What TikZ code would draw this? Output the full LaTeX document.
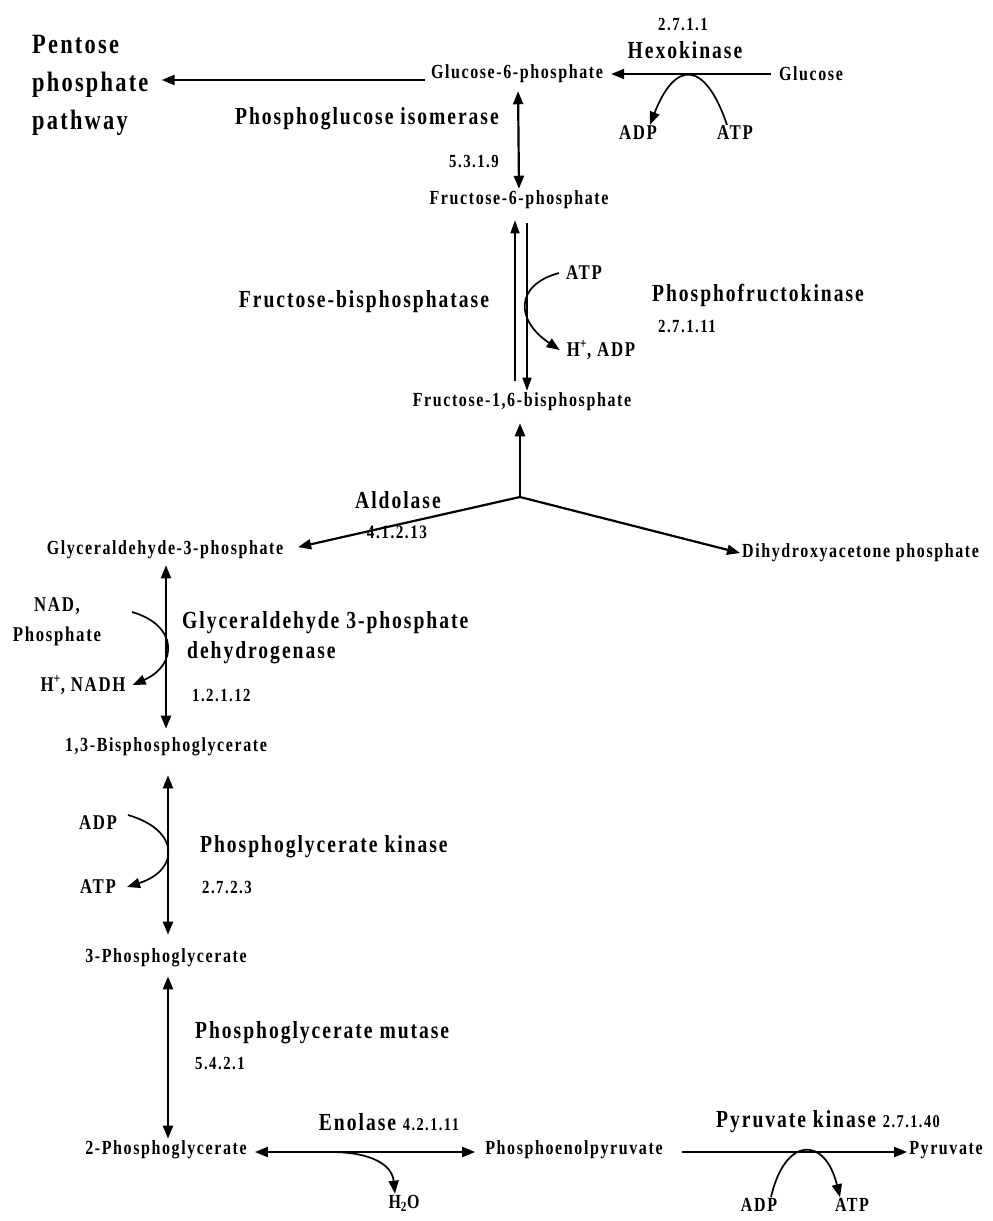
\documentclass[tikz,border=0pt]{standalone}
\usepackage{fontspec}
\setmainfont{Liberation Serif}[FakeStretch=0.8,LetterSpace=8]
\usetikzlibrary{arrows.meta,positioning,calc}

\tikzset{
    metab/.style={font=\bfseries\fontsize{20}{22}\selectfont, inner sep=2pt},
    enzyme/.style={font=\bfseries\fontsize{24.5}{30}\selectfont, inner sep=1pt},
    ec/.style={font=\bfseries\fontsize{18.5}{20}\selectfont, inner sep=1pt},
    cofac/.style={font=\bfseries\fontsize{21}{30}\selectfont, inner sep=1pt, align=center},
    arr/.style={-{Triangle[length=13pt,width=10pt]}, line width=2.2pt},
    dbl/.style={{Triangle[length=13pt,width=10pt]}-{Triangle[length=13pt,width=10pt]}, line width=2.2pt},
    side/.style={-{Triangle[length=13pt,width=10pt]}, line width=1.7pt},
    thin/.style={-{Triangle[length=13pt,width=9pt]}, line width=1.5pt}
}

\begin{document}
\begin{tikzpicture}[x=1pt, y=-1pt]
    \useasboundingbox[fill=white] (0,0) rectangle (993,1221);

    % glucose to fructose-6-phosphate
    \node[enzyme, font=\bfseries\fontsize{28}{38}\selectfont, align=left, anchor=west] (ppp) at (31,85) {Pentose\\phosphate\\pathway};
    \node[metab] (g6p) at (517,74) {Glucose-6-phosphate};
    \node[metab] (glc) at (811,74) {Glucose};
    \node[ec] (ec1) at (683,25) {2.7.1.1};
    \node[enzyme] (hk) at (685,50) {Hexokinase};
    \node[cofac] (adp1) at (638,133) {ADP};
    \node[cofac] (atp1) at (735,133) {ATP};
    \node[enzyme, anchor=east] (pgi) at (500,119) {Phosphoglucose isomerase};
    \node[ec, anchor=east] (ec2) at (500,162) {5.3.1.9};
    \node[metab] (f6p) at (519,200) {Fructose-6-phosphate};

    \draw[arr, shorten <=6pt, shorten >=6pt] (glc) -- (g6p);
    \draw[arr] ($(g6p.west)+(-4,6)$) -- ($(g6p.west -| ppp.east)+(12,6)$);
    \draw[side] ([xshift=-8pt]atp1.north) .. controls (705,60) and (675,60) .. ([xshift=12pt]adp1.north);
    \draw[dbl, shorten <=6pt] ([xshift=1pt]g6p.south) -- (f6p.north);

    % phosphofructokinase / fructose-bisphosphatase
    \node[cofac] (atp2) at (584,273) {ATP};
    \node[cofac] (hadp) at (601,350) {H\textsuperscript{+}, ADP};
    \node[enzyme] (pfk) at (758,295) {Phosphofructokinase};
    \node[ec] (ec3) at (687,327) {2.7.1.11};
    \node[enzyme] (fbp) at (364,302) {Fructose-bisphosphatase};
    \node[metab] (f16bp) at (522,402) {Fructose-1,6-bisphosphate};

    \draw[thin, shorten >=9pt] ([xshift=-7pt, yshift=10pt]f16bp.north) -- ([xshift=-4pt]f6p.south);
    \draw[thin, shorten <=12pt] ([xshift=8pt]f6p.south) -- ([xshift=5pt]f16bp.north);
    \draw[side] ([xshift=-6pt]atp2.west) .. controls (515,285) and (515,320) .. ([xshift=-6pt]hadp.west);

    % aldolase split
    \coordinate (split) at (520,497);
    \node[metab] (g3p) at (165,550) {Glyceraldehyde-3-phosphate};
    \node[metab, anchor=west] (dhap) at (740,553) {Dihydroxyacetone phosphate};
    \node[enzyme] (ald) at (398,500) {Aldolase};
    \node[ec, font=\bfseries\fontsize{19}{20}\selectfont] (ec4) at (397,532) {4.1.2.13};
    \draw[arr, shorten >=10pt] (split) -- (split |- f16bp.south);
    \draw[arr, shorten >=13pt] (split) -- (g3p.east);
    \draw[arr] (split) -- (dhap.west);

    % glyceraldehyde 3-phosphate dehydrogenase
    \node[cofac] (nad) at (57,622) {NAD,\\Phosphate};
    \node[cofac] (nadh) at (83,685) {H\textsuperscript{+}, NADH};
    \coordinate (nadin) at (132,612);
    \node[enzyme, align=left, anchor=west] (gapdh) at (181,638) {Glyceraldehyde 3-phosphate\\\hspace{5pt}dehydrogenase};
    \node[ec, anchor=west] (ec5) at (191,695) {1.2.1.12};
    \node[metab] (bpg13) at (166,747) {1,3-Bisphosphoglycerate};
    \draw[dbl, shorten <=4pt, shorten >=7pt] ([xshift=1pt]g3p.south) -- (bpg13.north);
    \draw[side] (nadin) .. controls (178,625) and (178,665) .. ([xshift=6pt]nadh.east);

    % phosphoglycerate kinase
    \node[cofac] (adp2) at (98,823) {ADP};
    \node[cofac] (atp3) at (98,887) {ATP};
    \coordinate (adpin) at (128,815);
    \node[enzyme, anchor=west] (pgk) at (199,847) {Phosphoglycerate kinase};
    \node[ec, anchor=west] (ec6) at (201,887) {2.7.2.3};
    \node[metab] (pg3) at (166,958) {3-Phosphoglycerate};
    \draw[dbl, shorten <=17pt, shorten >=12pt] ([xshift=2pt]bpg13.south) -- ([xshift=2pt]pg3.north);
    \draw[side] (adpin) .. controls (180,830) and (180,870) .. ([xshift=10pt]atp3.east);

    % phosphoglycerate mutase
    \node[enzyme, anchor=west] (pgm) at (194,1033) {Phosphoglycerate mutase};
    \node[ec, anchor=west] (ec7) at (194,1063) {5.4.2.1};
    \node[metab] (pg2) at (166,1150) {2-Phosphoglycerate};
    \draw[dbl, shorten <=7pt] ([xshift=2pt]pg3.south) -- ([xshift=2pt]pg2.north);

    % enolase and pyruvate kinase
    \node[metab] (pep) at (574,1150) {Phosphoenolpyruvate};
    \node[metab] (pyr) at (946,1150) {Pyruvate};
    \node[cofac, font=\bfseries\fontsize{20}{24}\selectfont] (h2o) at (404,1203) {H\textsubscript{2}O};
    \node[cofac, font=\bfseries\fontsize{20}{24}\selectfont] (adp3) at (759,1205) {ADP};
    \node[cofac, font=\bfseries\fontsize{20}{24}\selectfont] (atp4) at (852,1205) {ATP};
    \node[enzyme] (eno) at (389,1122) {Enolase {\fontsize{18}{20}\selectfont 4.2.1.11}};
    \node[enzyme] (pk) at (828,1122) {Pyruvate kinase {\fontsize{18}{20}\selectfont 2.7.1.40}};
    \coordinate (enoout) at (330,1152);
    \draw[dbl, shorten <=6pt, shorten >=8pt] ([yshift=-2pt]pg2.east) -- ([yshift=-2pt]pep.west);
    \draw[side] (enoout) .. controls (372,1152) and (392,1165) .. ([xshift=-9pt]h2o.north);
    \draw[arr, shorten <=17pt] ([yshift=-2pt]pep.east) -- ([yshift=-2pt]pyr.west);
    \draw[side] ([xshift=12pt]adp3.north) .. controls (785,1136) and (825,1136) .. ([xshift=-12pt]atp4.north);

\end{tikzpicture}
\end{document}
